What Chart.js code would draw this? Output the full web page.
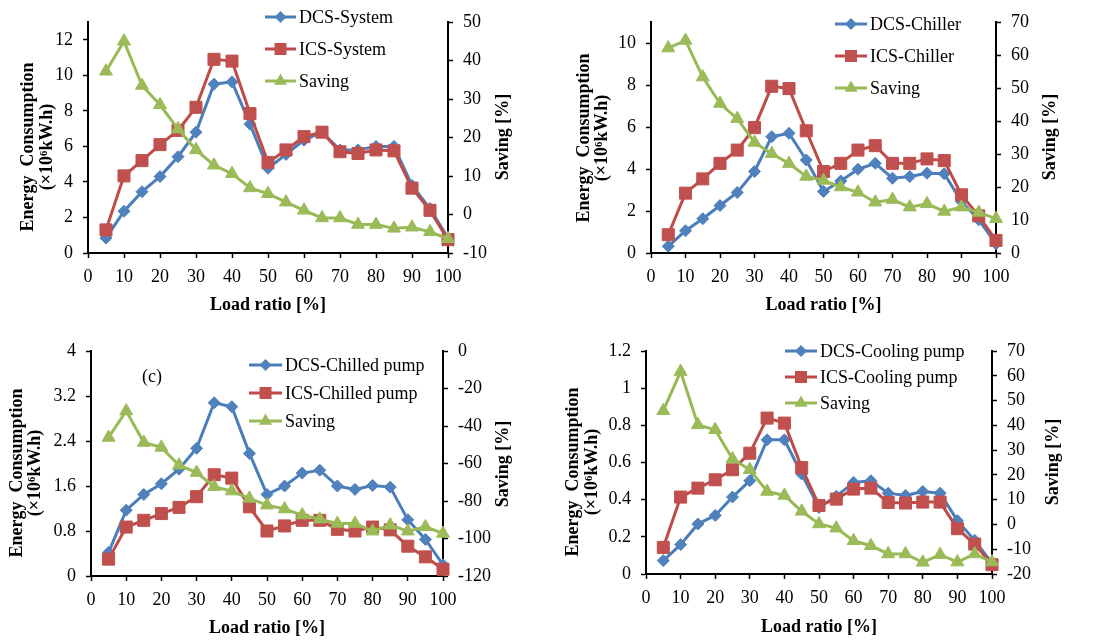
<!DOCTYPE html>
<html>
<head>
<meta charset="utf-8">
<script src="https://cdn.jsdelivr.net/npm/chart.js@4.4.0/dist/chart.umd.min.js"></script>
<style>
  body { margin: 0; background: #fff; }
  #wrap { position: relative; width: 1105px; height: 644px; }
  canvas { position: absolute; }
</style>
</head>
<body>
<div id="wrap">
  <canvas id="c1" width="552" height="322" style="left:0;top:0"></canvas>
  <canvas id="c2" width="553" height="322" style="left:552px;top:0"></canvas>
  <canvas id="c3" width="552" height="322" style="left:0;top:322px"></canvas>
  <canvas id="c4" width="553" height="322" style="left:552px;top:322px"></canvas>
</div>
<script>
// load ratio [%]
const loadRatio = [5, 10, 15, 20, 25, 30, 35, 40, 45, 50, 55, 60, 65, 70, 75, 80, 85, 90, 95, 100];

// (a) system, 10^6 kW.h and saving %
const dcsSystem = [0.84, 2.35, 3.45, 4.3, 5.42, 6.8, 9.5, 9.63, 7.25, 4.77, 5.55, 6.35, 6.8, 5.8, 5.8, 6.0, 6.0, 3.8, 2.5, 0.84];
const icsSystem = [1.3, 4.34, 5.2, 6.1, 6.9, 8.2, 10.9, 10.8, 7.85, 5.1, 5.8, 6.55, 6.8, 5.7, 5.6, 5.8, 5.75, 3.65, 2.4, 0.75];
const savingSystem = [37.2, 45, 33.5, 28.5, 22.2, 16.8, 12.8, 10.6, 6.9, 5.4, 3.2, 1.1, -0.9, -0.9, -2.6, -2.6, -3.6, -3.3, -4.5, -6.3];

// (b) chiller
const dcsChiller = [0.32, 1.06, 1.63, 2.26, 2.88, 3.88, 5.54, 5.7, 4.43, 2.93, 3.43, 3.99, 4.27, 3.56, 3.64, 3.8, 3.77, 2.45, 1.58, 0.44];
const icsChiller = [0.87, 2.85, 3.53, 4.27, 4.9, 5.97, 7.94, 7.83, 5.82, 3.88, 4.27, 4.9, 5.11, 4.27, 4.27, 4.48, 4.4, 2.77, 1.77, 0.6];
const savingChiller = [62.1, 64.4, 53.3, 45.3, 40.7, 33.5, 30.1, 27.1, 23.2, 22, 20, 18.4, 15.4, 16.2, 13.9, 14.9, 12.6, 13.9, 12.3, 10.4];

// (c) chilled pump
const dcsChilledPump = [0.42, 1.17, 1.45, 1.64, 1.9, 2.27, 3.08, 3.01, 2.18, 1.45, 1.6, 1.83, 1.88, 1.6, 1.54, 1.61, 1.58, 1.0, 0.65, 0.2];
const icsChilledPump = [0.3, 0.87, 0.99, 1.11, 1.22, 1.41, 1.8, 1.74, 1.23, 0.8, 0.89, 0.99, 0.99, 0.83, 0.8, 0.87, 0.82, 0.53, 0.34, 0.12];
const savingChilledPump = [-46.1, -32, -48.8, -51.4, -60.9, -64.8, -72.4, -74.7, -78.6, -82.2, -84.3, -87.5, -89.7, -92, -92, -96.1, -92.9, -96.1, -93.8, -97.3];

// (d) cooling pump
const dcsCoolingPump = [0.072, 0.158, 0.269, 0.315, 0.414, 0.502, 0.722, 0.722, 0.538, 0.358, 0.418, 0.493, 0.502, 0.435, 0.423, 0.444, 0.435, 0.287, 0.181, 0.059];
const icsCoolingPump = [0.143, 0.414, 0.462, 0.507, 0.561, 0.65, 0.839, 0.812, 0.573, 0.369, 0.403, 0.457, 0.462, 0.385, 0.382, 0.387, 0.387, 0.244, 0.161, 0.05];
const savingCoolingPump = [45.9, 61.7, 40.2, 38.2, 26.4, 22.1, 13.3, 11.7, 5.3, 0.2, -1.5, -6.6, -8.6, -11.9, -11.9, -15.3, -12.2, -15.2, -11.9, -15.2];

const SERIF = '"Liberation Serif", "Times New Roman", serif';
const BLUE = '#4A7EBB', RED = '#BE4B48', GREEN = '#98B954';

Chart.defaults.font.family = SERIF;
Chart.defaults.font.size = 18;
Chart.defaults.color = '#000';

// legend marker, same shapes as the chart points
function marker(ctx, kind, x, y, color) {
  ctx.fillStyle = color;
  ctx.beginPath();
  if (kind === 'rectRot') {
    const r = 6;
    ctx.moveTo(x - r, y); ctx.lineTo(x, y - r); ctx.lineTo(x + r, y); ctx.lineTo(x, y + r);
  } else if (kind === 'rect') {
    ctx.rect(x - 6, y - 6, 12, 12);
  } else {
    const r = 7.5;
    ctx.moveTo(x, y - r); ctx.lineTo(x + r * 0.866, y + r / 2); ctx.lineTo(x - r * 0.866, y + r / 2);
  }
  ctx.closePath();
  ctx.fill();
}

// titles, legend and extra labels
const decor = {
  id: 'decor',
  afterDraw(chart, args, o) {
    const ctx = chart.ctx, a = chart.chartArea;
    ctx.save();
    ctx.fillStyle = '#000';
    ctx.textBaseline = 'middle';
    ctx.textAlign = 'center';
    ctx.font = 'bold 18px ' + SERIF;
    ctx.fillText('Load ratio [%]', (a.left + a.right) / 2, o.xTitleY);

    ctx.save();
    ctx.translate(o.yTitleX[0], o.yTitleY);
    ctx.rotate(-Math.PI / 2);
    ctx.fillText('Energy  Consumption', 0, 0);
    ctx.restore();
    ctx.save();
    ctx.translate(o.yTitleX[1], o.yTitleY);
    ctx.rotate(-Math.PI / 2);
    ctx.fillText('(\u00d710\u2076kW.h)', 0, 0);
    ctx.restore();

    ctx.save();
    ctx.translate(o.rTitle[0], o.rTitle[1]);
    ctx.rotate(-Math.PI / 2);
    ctx.fillText('Saving [%]', 0, 0);
    ctx.restore();

    // legend
    ctx.font = '18px ' + SERIF;
    ctx.textAlign = 'left';
    chart.data.datasets.forEach((ds, i) => {
      const y = o.legendY[i];
      ctx.strokeStyle = ds.borderColor;
      ctx.lineWidth = 3;
      ctx.beginPath();
      ctx.moveTo(o.legendX[0], y);
      ctx.lineTo(o.legendX[1], y);
      ctx.stroke();
      marker(ctx, ds.pointStyle, (o.legendX[0] + o.legendX[1]) / 2, y, ds.pointBackgroundColor);
      ctx.fillStyle = '#000';
      ctx.fillText(ds.label, o.legendX[1] + 3, y + 1);
    });

    if (o.note) {
      ctx.textAlign = 'center';
      ctx.fillText(o.note[0], o.note[1], o.note[2]);
    }
    ctx.restore();
  }
};

function series(label, ys, line, fill, style, radius, axis, order) {
  return {
    label,
    data: loadRatio.map((x, i) => ({ x, y: ys[i] })),
    borderColor: line,
    backgroundColor: fill,
    borderWidth: 3,
    pointStyle: style,
    pointRadius: radius,
    pointBackgroundColor: fill,
    pointBorderColor: fill,
    pointBorderWidth: 1,
    tension: 0,
    yAxisID: axis,
    order,
    clip: false
  };
}

function fmt(v) {
  return String(Math.round(v * 100) / 100);
}

function axisGrid() {
  return { drawOnChartArea: false, drawTicks: true, tickLength: 5, tickColor: '#000', tickWidth: 1.5 };
}

function makeChart(id, p) {
  const cv = document.getElementById(id);
  const W = cv.width, H = cv.height;
  return new Chart(cv, {
    type: 'line',
    data: {
      datasets: [
        series(p.names[0], p.dcs, BLUE, '#4F81BD', 'rectRot', 6, 'y', 2),
        series(p.names[1], p.ics, RED, '#C0504D', 'rect', 8.5, 'y', 1),
        series('Saving', p.saving, GREEN, '#9BBB59', 'triangle', 7.5, 'y2', 0)
      ]
    },
    options: {
      responsive: false,
      animation: false,
      layout: { padding: { top: p.area.top, left: 0, right: 0, bottom: 0 } },
      plugins: {
        legend: { display: false },
        tooltip: { enabled: false },
        decor: p.decor
      },
      scales: {
        x: {
          type: 'linear', min: 0, max: 100,
          ticks: { stepSize: 10, padding: 8, maxRotation: 0 },
          grid: axisGrid(),
          border: { color: '#000', width: 2 },
          afterFit(s) { s.height = H - p.area.bottom; }
        },
        y: {
          position: 'left', min: 0, max: p.left.max,
          ticks: { stepSize: p.left.step, padding: 10, callback: fmt },
          grid: axisGrid(),
          border: { color: '#000', width: 2 },
          // labels only up to the last major unit, like the original axis
          afterBuildTicks(s) {
            const t = [];
            for (let k = 0; k * p.left.step <= p.left.lastLabel + 1e-9; k++) {
              t.push({ value: Math.round(k * p.left.step * 1000) / 1000 });
            }
            s.ticks = t;
          },
          afterFit(s) { s.width = p.area.left; }
        },
        y2: {
          position: 'right', min: p.right.min, max: p.right.max,
          ticks: { stepSize: p.right.step, padding: 10, callback: fmt },
          grid: axisGrid(),
          border: { color: '#000', width: 2 },
          afterFit(s) { s.width = W - p.area.right; }
        }
      }
    },
    plugins: [decor]
  });
}

makeChart('c1', {
  names: ['DCS-System', 'ICS-System'],
  dcs: dcsSystem, ics: icsSystem, saving: savingSystem,
  area: { left: 88, right: 448, top: 22, bottom: 253 },
  left: { max: 13, step: 2, lastLabel: 12 },
  right: { min: -10, max: 50, step: 10 },
  decor: { xTitleY: 305, yTitleX: [28, 47], yTitleY: 147, rTitle: [503, 137],
           legendX: [265, 296], legendY: [17, 49, 81] }
});

makeChart('c2', {
  names: ['DCS-Chiller', 'ICS-Chiller'],
  dcs: dcsChiller, ics: icsChiller, saving: savingChiller,
  area: { left: 99, right: 444, top: 22, bottom: 253 },
  left: { max: 11, step: 2, lastLabel: 10 },
  right: { min: 0, max: 70, step: 10 },
  decor: { xTitleY: 305, yTitleX: [32, 50], yTitleY: 138, rTitle: [498, 137],
           legendX: [283, 315], legendY: [24, 56, 88] }
});

makeChart('c3', {
  names: ['DCS-Chilled pump', 'ICS-Chilled pump'],
  dcs: dcsChilledPump, ics: icsChilledPump, saving: savingChilledPump,
  area: { left: 91, right: 443, top: 29, bottom: 254 },
  left: { max: 4, step: 0.8, lastLabel: 4 },
  right: { min: -120, max: 0, step: 20 },
  decor: { xTitleY: 306, yTitleX: [17, 35], yTitleY: 151, rTitle: [503, 142],
           legendX: [249, 282], legendY: [43, 71, 99], note: ['(c)', 152, 55] }
});

makeChart('c4', {
  names: ['DCS-Cooling pump', 'ICS-Cooling pump'],
  dcs: dcsCoolingPump, ics: icsCoolingPump, saving: savingCoolingPump,
  area: { left: 94, right: 440, top: 29, bottom: 252 },
  left: { max: 1.2, step: 0.2, lastLabel: 1.2 },
  right: { min: -20, max: 70, step: 10 },
  decor: { xTitleY: 305, yTitleX: [21, 40], yTitleY: 150, rTitle: [501, 140],
           legendX: [233, 265], legendY: [29, 55, 81] }
});
</script>
</body>
</html>
